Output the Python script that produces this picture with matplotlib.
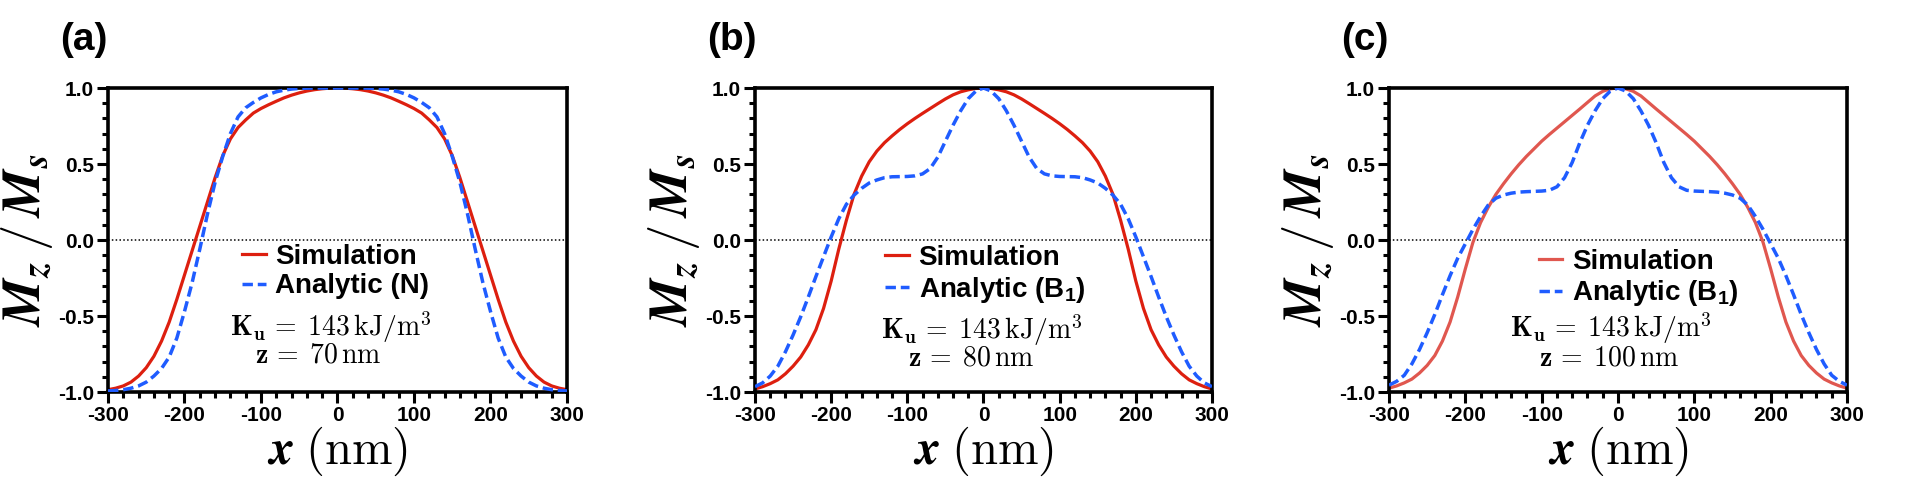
import matplotlib
matplotlib.use("Agg")
import matplotlib.pyplot as plt
import numpy as np
from matplotlib.ticker import MultipleLocator

plt.rcParams['axes.unicode_minus'] = False
plt.rcParams['font.family'] = ['Liberation Sans', 'DejaVu Sans']
plt.rcParams['mathtext.fontset'] = 'cm'
plt.rcParams['mathtext.bf'] = 'Liberation Sans:bold'

# position along the track, nm
x_nm = np.arange(-300, 301, 10)

# panel (a): z = 70 nm
sim_a = [-0.985, -0.975, -0.960, -0.935, -0.895, -0.840, -0.765, -0.665, -0.540, -0.390,
         -0.230, -0.070, 0.090, 0.250, 0.410, 0.555, 0.665, 0.740, 0.790, 0.835,
         0.865, 0.890, 0.913, 0.935, 0.953, 0.968, 0.980, 0.989, 0.995, 0.999,
         1.000,
         0.999, 0.995, 0.989, 0.980, 0.968, 0.953, 0.935, 0.913, 0.890, 0.865,
         0.835, 0.790, 0.740, 0.665, 0.555, 0.410, 0.250, 0.090, -0.070, -0.230,
         -0.390, -0.540, -0.665, -0.765, -0.840, -0.895, -0.935, -0.960, -0.975, -0.985]
ana_a = [-0.993, -0.990, -0.985, -0.975, -0.960, -0.935, -0.895, -0.845, -0.770, -0.645,
         -0.470, -0.280, -0.060, 0.170, 0.380, 0.550, 0.700, 0.810, 0.870, 0.905,
         0.935, 0.958, 0.975, 0.986, 0.993, 0.997, 0.999, 1.000, 1.000, 1.000,
         1.000,
         1.000, 1.000, 1.000, 0.999, 0.997, 0.993, 0.986, 0.975, 0.958, 0.935,
         0.905, 0.870, 0.810, 0.700, 0.550, 0.380, 0.170, -0.060, -0.280, -0.470,
         -0.645, -0.770, -0.845, -0.895, -0.935, -0.960, -0.975, -0.985, -0.990, -0.993]

# panel (b): z = 80 nm
sim_b = [-0.980, -0.965, -0.945, -0.920, -0.880, -0.830, -0.770, -0.690, -0.590, -0.450,
         -0.270, -0.060, 0.130, 0.300, 0.420, 0.515, 0.585, 0.640, 0.685, 0.727,
         0.765, 0.800, 0.833, 0.865, 0.897, 0.928, 0.955, 0.975, 0.988, 0.997,
         1.000,
         0.997, 0.988, 0.975, 0.955, 0.928, 0.897, 0.865, 0.833, 0.800, 0.765,
         0.727, 0.685, 0.640, 0.585, 0.515, 0.420, 0.300, 0.130, -0.060, -0.270,
         -0.450, -0.590, -0.690, -0.770, -0.830, -0.880, -0.920, -0.945, -0.965, -0.980]
ana_b = [-0.965, -0.940, -0.895, -0.830, -0.735, -0.625, -0.505, -0.375, -0.240, -0.110,
         0.020, 0.140, 0.235, 0.295, 0.340, 0.375, 0.395, 0.410, 0.416, 0.417,
         0.418, 0.422, 0.435, 0.470, 0.545, 0.650, 0.755, 0.850, 0.930, 0.980,
         1.000,
         0.980, 0.930, 0.850, 0.755, 0.650, 0.545, 0.470, 0.435, 0.422, 0.418,
         0.417, 0.416, 0.410, 0.395, 0.375, 0.340, 0.295, 0.235, 0.140, 0.020,
         -0.110, -0.240, -0.375, -0.505, -0.625, -0.735, -0.830, -0.895, -0.940, -0.965]

# panel (c): z = 100 nm
sim_c = [-0.975, -0.960, -0.940, -0.915, -0.875, -0.825, -0.760, -0.665, -0.540, -0.375,
         -0.190, -0.015, 0.115, 0.215, 0.300, 0.370, 0.435, 0.495, 0.550, 0.600,
         0.650, 0.694, 0.736, 0.778, 0.820, 0.862, 0.905, 0.948, 0.978, 0.995,
         1.000,
         0.995, 0.978, 0.948, 0.905, 0.862, 0.820, 0.778, 0.736, 0.694, 0.650,
         0.600, 0.550, 0.495, 0.435, 0.370, 0.300, 0.215, 0.115, -0.015, -0.190,
         -0.375, -0.540, -0.665, -0.760, -0.825, -0.875, -0.915, -0.940, -0.960, -0.975]
ana_c = [-0.955, -0.930, -0.890, -0.815, -0.720, -0.610, -0.490, -0.360, -0.235, -0.120,
         -0.025, 0.070, 0.155, 0.230, 0.275, 0.296, 0.308, 0.315, 0.318, 0.320,
         0.322, 0.327, 0.350, 0.410, 0.510, 0.640, 0.755, 0.850, 0.930, 0.980,
         1.000,
         0.980, 0.930, 0.850, 0.755, 0.640, 0.510, 0.410, 0.350, 0.327, 0.322,
         0.320, 0.318, 0.315, 0.308, 0.296, 0.275, 0.230, 0.155, 0.070, -0.025,
         -0.120, -0.235, -0.360, -0.490, -0.610, -0.720, -0.815, -0.890, -0.930, -0.955]

panel_tags = ["(a)", "(b)", "(c)"]
sims = [sim_a, sim_b, sim_c]
anas = [ana_a, ana_b, ana_c]
ana_labels = ["Analytic (N)", r"Analytic (B$_\mathbf{1}$)", r"Analytic (B$_\mathbf{1}$)"]
z_texts = [r"$\mathbf{z}\,=\;\mathbf{70}\,\mathrm{nm}$", r"$\mathbf{z}\,=\;\mathbf{80}\,\mathrm{nm}$",
           r"$\mathbf{z}\,=\;\mathbf{100}\,\mathrm{nm}$"]
ku_text = r"$\mathbf{K_u}\,=\;\mathbf{143}\,\mathrm{kJ/m^3}$"

sim_colors = ["#dd1f0f", "#dd1f0f", "#e0574f"]
blue = "#1f5cff"

W, H = 1908, 495
lefts = [108, 755, 1389]
widths = [459, 457, 458]
top_px, bot_px = 88, 392

# layout tweaks per panel (axes-coordinate anchors / data positions)
leg_x = [0.292, 0.285, 0.327]
leg_y = [0.487, 0.483, 0.470]
ku_pos = [(-140, -0.57), (-134, -0.59), (-141, -0.58)]
z_pos = [(-108, -0.76), (-99, -0.78), (-104, -0.78)]

fig = plt.figure(figsize=(W / 100, H / 100), dpi=100)

for i in range(3):
    ax = fig.add_axes([lefts[i] / W, (H - bot_px) / H, widths[i] / W, (bot_px - top_px) / H])
    ax.axhline(0, color='k', lw=1.1, ls=(0, (1, 1.5)), zorder=1)
    ax.plot(x_nm, sims[i], color=sim_colors[i], lw=2.3, label="Simulation", zorder=2)
    ax.plot(x_nm, anas[i], color=blue, lw=2.5, dashes=(3.0, 1.4), label=ana_labels[i], zorder=3)

    ax.set_xlim(-300, 300)
    ax.set_ylim(-1.0, 1.0)
    ax.xaxis.set_major_locator(MultipleLocator(100))
    ax.xaxis.set_minor_locator(MultipleLocator(20))
    ax.yaxis.set_major_locator(MultipleLocator(0.5))
    ax.yaxis.set_minor_locator(MultipleLocator(0.1))
    ax.yaxis.set_major_formatter(matplotlib.ticker.FormatStrFormatter('%.1f'))
    ax.tick_params(which='major', direction='out', length=8, width=2.2, pad=2,
                   labelsize=15)
    ax.tick_params(which='minor', direction='out', length=4.5, width=2.2)
    for lab in ax.get_xticklabels() + ax.get_yticklabels():
        lab.set_fontweight('bold')
    for sp in ax.spines.values():
        sp.set_linewidth(2.6)

    ax.set_xlabel(r"$\mathbfit{x}\;(\mathrm{nm})$", fontsize=35, labelpad=0, math_fontfamily='cm')
    ax.set_ylabel(r"$\mathbfit{M}_{\mathbfit{z}}\,/\,\mathbfit{M}_{\mathbfit{s}}$", fontsize=38,
                  labelpad=2, math_fontfamily='cm')

    leg = ax.legend(loc='upper left', bbox_to_anchor=(leg_x[i], leg_y[i]), frameon=False,
                    prop={'family': 'Liberation Sans', 'weight': 'bold', 'size': 20},
                    handlelength=0.85, handletextpad=0.35, borderpad=0, borderaxespad=0,
                    labelspacing=0.12)
    for t in leg.get_texts():
        t.set_math_fontfamily('custom')

    ax.text(ku_pos[i][0], ku_pos[i][1], ku_text, fontsize=20, ha='left', va='center',
            math_fontfamily='cm')
    ax.text(z_pos[i][0], z_pos[i][1], z_texts[i], fontsize=20, ha='left', va='center',
            math_fontfamily='cm')

    fig.text((lefts[i] - 48) / W, 1 - 22 / H, panel_tags[i], fontsize=28, fontweight='bold',
             ha='left', va='top')

fig.savefig("out.png", dpi=100)
